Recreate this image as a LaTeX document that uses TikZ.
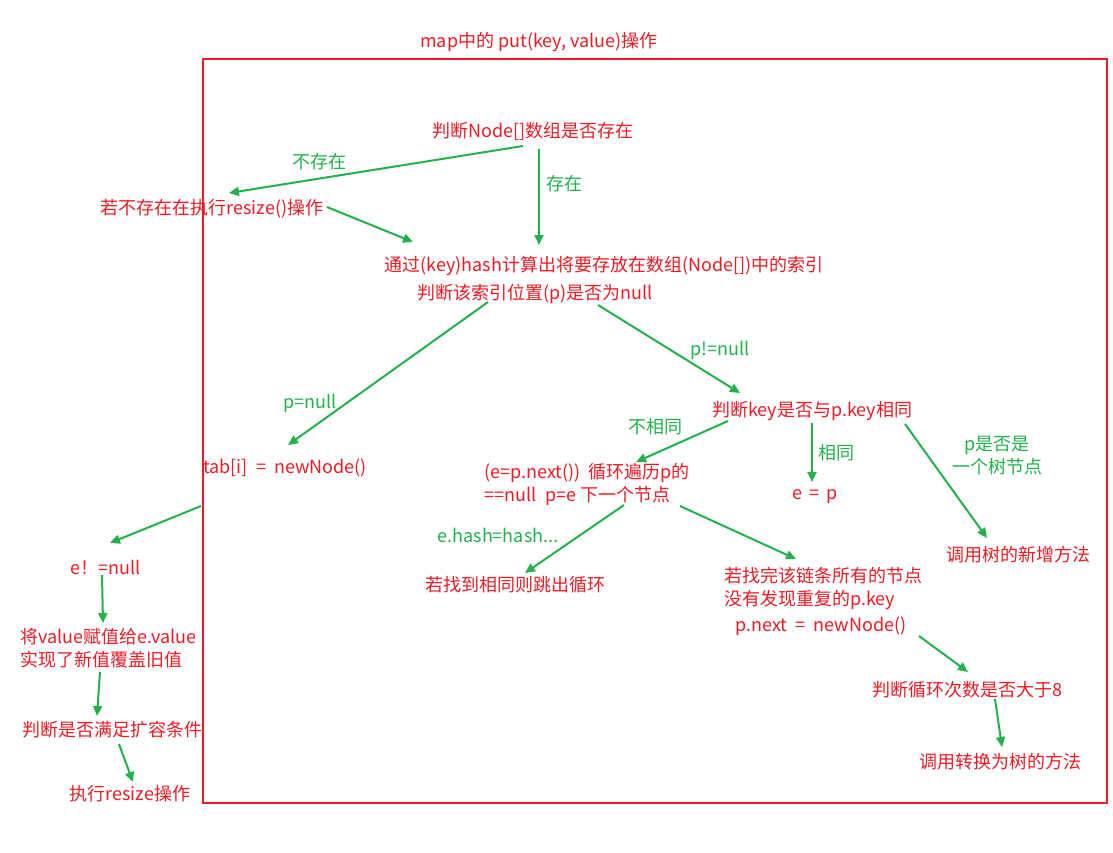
\documentclass[tikz,border=0pt]{standalone}
\usepackage{fontspec}
\setmainfont{Noto Sans CJK SC}
\usetikzlibrary{arrows.meta}
\definecolor{tred}{RGB}{237,28,36}
\definecolor{tgreen}{RGB}{34,177,76}
\begin{document}
\begin{tikzpicture}[x=1pt,y=-1pt,
  txt/.style={inner sep=0pt,text=tred,font=\fontsize{18}{23}\selectfont},
  lbl/.style={inner sep=0pt,text=tgreen,font=\fontsize{18}{23}\selectfont},
  arr/.style={draw=tgreen,line width=2pt,-{Triangle[length=10pt,width=9pt]}}]
\useasboundingbox (0,0) rectangle (1113,852);
\fill[white] (0,0) rectangle (1113,852);
\draw[tred,line width=1.1pt] (203,59) rectangle (1107,803);
\node[txt] (title) at (539,42) {map中的 put(key, value)操作};
\node[txt] (n1) at (533,131) {判断Node[]数组是否存在};
\node[txt] (n2) at (212,209) {若不存在在执行resize()操作};
\node[txt] (n3) at (604,266) {通过(key)hash计算出将要存放在数组(Node[])中的索引};
\node[txt] (n4) at (535,294) {判断该索引位置(p)是否为null};
\node[txt,anchor=west] (n5) at (203,468) {tab[i]\hspace{0.45em}=\hspace{0.45em}newNode()};
\node[txt] (n6) at (812,411) {判断key是否与p.key相同};
\node[txt,anchor=west,align=left] (n7) at (484,484) {(e=p.next())\hspace{0.45em}循环遍历p的\\==null\hspace{0.5em}p=e 下一个节点};
\node[txt] (n8) at (815,497) {e\hspace{0.4em}=\hspace{0.4em}p};
\node[txt] (n9) at (1018,555) {调用树的新增方法};
\node[txt] (n10) at (515,585) {若找到相同则跳出循环};
\node[txt,anchor=west,align=left] (n11) at (724,588) {若找完该链条所有的节点\\没有发现重复的p.key};
\node[txt] (n12) at (821,626) {p.next\hspace{0.45em}=\hspace{0.45em}newNode()};
\node[txt] (n13) at (967,690) {判断循环次数是否大于8};
\node[txt] (n14) at (1000,762) {调用转换为树的方法};
\node[txt] (n15) at (106,567) {e！=null};
\node[txt,anchor=west,align=left] (n16) at (20,648) {将value赋值给e.value\\实现了新值覆盖旧值};
\node[txt] (n17) at (112,730) {判断是否满足扩容条件};
\node[txt] (n18) at (130,794) {执行resize操作};
\node[lbl] (l1) at (319,162) {不存在};
\node[lbl] (l2) at (564,184) {存在};
\node[lbl] (l3) at (310,403) {p=null};
\node[lbl] (l4) at (720,350) {p!=null};
\node[lbl] (l5) at (655,427) {不相同};
\node[lbl] (l6) at (836,453) {相同};
\node[lbl,align=center] (l7) at (997,456) {p是否是\\一个树节点};
\node[lbl] (l8) at (498,535) {e.hash=hash...};
% connector end points
\coordinate (a1s) at (523,146); \coordinate (a1e) at (229,193);
\coordinate (a2s) at (539,149); \coordinate (a2e) at (539,245);
\coordinate (a3s) at (327,207); \coordinate (a3e) at (413,242);
\coordinate (a4s) at (488,302); \coordinate (a4e) at (288,445);
\coordinate (a5s) at (598,305); \coordinate (a5e) at (740,393);
\coordinate (a6s) at (728,421); \coordinate (a6e) at (636,462);
\coordinate (a7s) at (812,423); \coordinate (a7e) at (812,482);
\coordinate (a8s) at (905,424); \coordinate (a8e) at (987,538);
\coordinate (a9s) at (624,505); \coordinate (a9e) at (525,573);
\coordinate (a10s) at (680,506); \coordinate (a10e) at (796,559);
\coordinate (a11s) at (919,636); \coordinate (a11e) at (968,672);
\coordinate (a12s) at (995,699); \coordinate (a12e) at (1002,747);
\coordinate (a13s) at (201,506); \coordinate (a13e) at (110,543);
\coordinate (a14s) at (102,575); \coordinate (a14e) at (103,623);
\coordinate (a15s) at (100,672); \coordinate (a15e) at (97,716);
\coordinate (a16s) at (119,744); \coordinate (a16e) at (133,782);
\draw[arr] (a1s) -- (a1e);
\draw[arr] (a2s) -- (a2e);
\draw[arr] (a3s) -- (a3e);
\draw[arr] (a4s) -- (a4e);
\draw[arr] (a5s) -- (a5e);
\draw[arr] (a6s) -- (a6e);
\draw[arr] (a7s) -- (a7e);
\draw[arr] (a8s) -- (a8e);
\draw[arr] (a9s) -- (a9e);
\draw[arr] (a10s) -- (a10e);
\draw[arr] (a11s) -- (a11e);
\draw[arr] (a12s) -- (a12e);
\draw[arr] (a13s) -- (a13e);
\draw[arr] (a14s) -- (a14e);
\draw[arr] (a15s) -- (a15e);
\draw[arr] (a16s) -- (a16e);
\end{tikzpicture}
\end{document}
